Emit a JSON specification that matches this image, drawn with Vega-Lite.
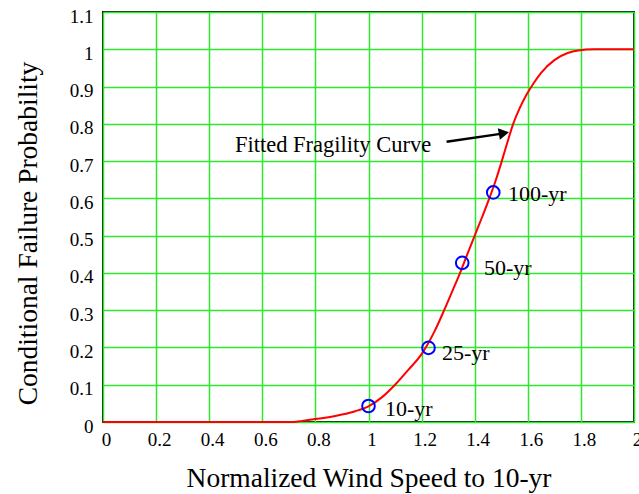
{
  "$schema": "https://vega.github.io/schema/vega-lite/v6.json",
  "width": 531,
  "height": 410,
  "autosize": "none",
  "padding": {"left": 103, "top": 12, "right": 5, "bottom": 72},
  "background": "white",
  "config": {
    "view": {"stroke": "#111a11", "strokeWidth": 2},
    "font": "Liberation Serif",
    "axis": {
      "grid": true,
      "gridColor": "#2ee82e",
      "gridWidth": 1.5,
      "gridOpacity": 1,
      "ticks": false,
      "domain": false,
      "labelFont": "Liberation Serif",
      "labelFontSize": 19,
      "labelColor": "#000000",
      "titleFont": "Liberation Serif",
      "titleFontSize": 27.5,
      "titleFontWeight": "normal",
      "titleColor": "#000000",
      "labelFlush": false,
      "labelBound": false,
      "labelOverlap": false
    }
  },
  "datasets": {
    "curve": [
      {"x": 0, "y": 0},
      {"x": 0.72, "y": 0},
      {"x": 0.75, "y": 0.003},
      {"x": 0.8, "y": 0.008},
      {"x": 0.85, "y": 0.013},
      {"x": 0.9, "y": 0.02},
      {"x": 0.95, "y": 0.029},
      {"x": 1.0, "y": 0.042},
      {"x": 1.05, "y": 0.066},
      {"x": 1.1, "y": 0.1},
      {"x": 1.15, "y": 0.14},
      {"x": 1.2, "y": 0.182},
      {"x": 1.25, "y": 0.245},
      {"x": 1.285, "y": 0.3},
      {"x": 1.315, "y": 0.35},
      {"x": 1.345, "y": 0.4},
      {"x": 1.372, "y": 0.45},
      {"x": 1.4, "y": 0.5},
      {"x": 1.428, "y": 0.55},
      {"x": 1.455, "y": 0.6},
      {"x": 1.48, "y": 0.65},
      {"x": 1.502, "y": 0.7},
      {"x": 1.523, "y": 0.75},
      {"x": 1.545, "y": 0.8},
      {"x": 1.57, "y": 0.843},
      {"x": 1.595, "y": 0.878},
      {"x": 1.62, "y": 0.907},
      {"x": 1.65, "y": 0.937},
      {"x": 1.7, "y": 0.971},
      {"x": 1.75, "y": 0.99},
      {"x": 1.79, "y": 0.997},
      {"x": 1.85, "y": 1.0},
      {"x": 2.0, "y": 1.0}
    ],
    "pts": [
      {"x": 1.0, "y": 0.043, "label": "10-yr", "lx": 1.062, "ly": 0.034},
      {"x": 1.226, "y": 0.199, "label": "25-yr", "lx": 1.277, "ly": 0.184},
      {"x": 1.353, "y": 0.427, "label": "50-yr", "lx": 1.435, "ly": 0.412},
      {"x": 1.47, "y": 0.616, "label": "100-yr", "lx": 1.525, "ly": 0.612}
    ],
    "arrow": [
      {"x1": 1.294, "y1": 0.752, "x2": 1.497, "y2": 0.773, "hx": 1.51, "hy": 0.775, "tx": 0.497, "ty": 0.743, "text": "Fitted Fragility Curve"}
    ]
  },
  "layer": [
    {
      "data": {"name": "curve"},
      "mark": {"type": "line", "color": "#ff0000", "strokeWidth": 2, "interpolate": "monotone"},
      "encoding": {
        "x": {
          "field": "x", "type": "quantitative",
          "scale": {"domain": [0, 2], "nice": false, "zero": false},
          "axis": {
            "title": "Normalized Wind Speed to 10-yr",
            "values": [0, 0.2, 0.4, 0.6, 0.8, 1, 1.2, 1.4, 1.6, 1.8, 2],
            "format": "~g",
            "labelPadding": 8,
            "labelOffset": 3,
            "labelOverlap": false,
            "titlePadding": 15
          }
        },
        "y": {
          "field": "y", "type": "quantitative",
          "scale": {"domain": [0, 1.1], "nice": false},
          "axis": {
            "title": "Conditional Failure Probability",
            "values": [0, 0.1, 0.2, 0.3, 0.4, 0.5, 0.6, 0.7, 0.8, 0.9, 1, 1.1],
            "format": "~g",
            "labelPadding": 10,
            "labelOffset": 4,
            "labelOverlap": false,
            "titlePadding": 27,
            "titleY": 221
          }
        }
      }
    },
    {
      "data": {"name": "pts"},
      "mark": {"type": "point", "shape": "circle", "filled": false, "color": "#0000ff", "strokeWidth": 2, "size": 160, "opacity": 1},
      "encoding": {
        "x": {"field": "x", "type": "quantitative", "axis": {
            "title": "Normalized Wind Speed to 10-yr",
            "values": [0, 0.2, 0.4, 0.6, 0.8, 1, 1.2, 1.4, 1.6, 1.8, 2],
            "format": "~g",
            "labelPadding": 8,
            "labelOffset": 3,
            "labelOverlap": false,
            "titlePadding": 15
          }},
        "y": {"field": "y", "type": "quantitative", "axis": {
            "title": "Conditional Failure Probability",
            "values": [0, 0.1, 0.2, 0.3, 0.4, 0.5, 0.6, 0.7, 0.8, 0.9, 1, 1.1],
            "format": "~g",
            "labelPadding": 10,
            "labelOffset": 4,
            "labelOverlap": false,
            "titlePadding": 27,
            "titleY": 221
          }}
      }
    },
    {
      "data": {"name": "pts"},
      "mark": {"type": "text", "align": "left", "baseline": "middle", "fontSize": 22, "color": "#000000"},
      "encoding": {
        "x": {"field": "lx", "type": "quantitative", "axis": {
            "title": "Normalized Wind Speed to 10-yr",
            "values": [0, 0.2, 0.4, 0.6, 0.8, 1, 1.2, 1.4, 1.6, 1.8, 2],
            "format": "~g",
            "labelPadding": 8,
            "labelOffset": 3,
            "labelOverlap": false,
            "titlePadding": 15
          }},
        "y": {"field": "ly", "type": "quantitative", "axis": {
            "title": "Conditional Failure Probability",
            "values": [0, 0.1, 0.2, 0.3, 0.4, 0.5, 0.6, 0.7, 0.8, 0.9, 1, 1.1],
            "format": "~g",
            "labelPadding": 10,
            "labelOffset": 4,
            "labelOverlap": false,
            "titlePadding": 27,
            "titleY": 221
          }},
        "text": {"field": "label"}
      }
    },
    {
      "data": {"name": "arrow"},
      "mark": {"type": "rule", "color": "#000000", "strokeWidth": 2.5},
      "encoding": {
        "x": {"field": "x1", "type": "quantitative", "axis": {
            "title": "Normalized Wind Speed to 10-yr",
            "values": [0, 0.2, 0.4, 0.6, 0.8, 1, 1.2, 1.4, 1.6, 1.8, 2],
            "format": "~g",
            "labelPadding": 8,
            "labelOffset": 3,
            "labelOverlap": false,
            "titlePadding": 15
          }},
        "y": {"field": "y1", "type": "quantitative", "axis": {
            "title": "Conditional Failure Probability",
            "values": [0, 0.1, 0.2, 0.3, 0.4, 0.5, 0.6, 0.7, 0.8, 0.9, 1, 1.1],
            "format": "~g",
            "labelPadding": 10,
            "labelOffset": 4,
            "labelOverlap": false,
            "titlePadding": 27,
            "titleY": 221
          }},
        "x2": {"field": "x2"},
        "y2": {"field": "y2"}
      }
    },
    {
      "data": {"name": "arrow"},
      "mark": {"type": "point", "shape": "triangle-right", "filled": true, "color": "#000000", "size": 140, "angle": -10, "opacity": 1},
      "encoding": {
        "x": {"field": "hx", "type": "quantitative", "axis": {
            "title": "Normalized Wind Speed to 10-yr",
            "values": [0, 0.2, 0.4, 0.6, 0.8, 1, 1.2, 1.4, 1.6, 1.8, 2],
            "format": "~g",
            "labelPadding": 8,
            "labelOffset": 3,
            "labelOverlap": false,
            "titlePadding": 15
          }},
        "y": {"field": "hy", "type": "quantitative", "axis": {
            "title": "Conditional Failure Probability",
            "values": [0, 0.1, 0.2, 0.3, 0.4, 0.5, 0.6, 0.7, 0.8, 0.9, 1, 1.1],
            "format": "~g",
            "labelPadding": 10,
            "labelOffset": 4,
            "labelOverlap": false,
            "titlePadding": 27,
            "titleY": 221
          }}
      }
    },
    {
      "data": {"name": "arrow"},
      "mark": {"type": "text", "align": "left", "baseline": "middle", "fontSize": 22.5, "color": "#000000"},
      "encoding": {
        "x": {"field": "tx", "type": "quantitative", "axis": {
            "title": "Normalized Wind Speed to 10-yr",
            "values": [0, 0.2, 0.4, 0.6, 0.8, 1, 1.2, 1.4, 1.6, 1.8, 2],
            "format": "~g",
            "labelPadding": 8,
            "labelOffset": 3,
            "labelOverlap": false,
            "titlePadding": 15
          }},
        "y": {"field": "ty", "type": "quantitative", "axis": {
            "title": "Conditional Failure Probability",
            "values": [0, 0.1, 0.2, 0.3, 0.4, 0.5, 0.6, 0.7, 0.8, 0.9, 1, 1.1],
            "format": "~g",
            "labelPadding": 10,
            "labelOffset": 4,
            "labelOverlap": false,
            "titlePadding": 27,
            "titleY": 221
          }},
        "text": {"field": "text"}
      }
    }
  ]
}
